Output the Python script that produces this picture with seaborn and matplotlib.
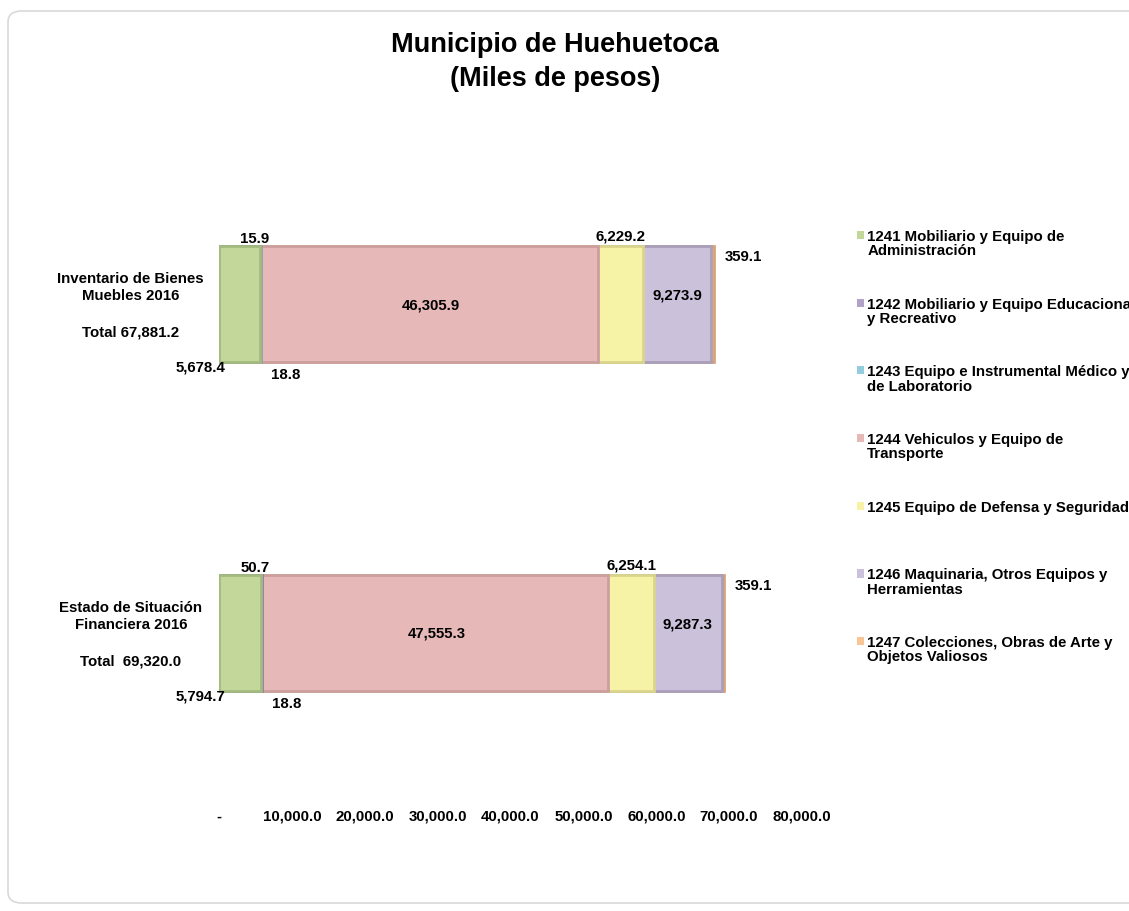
import matplotlib
matplotlib.use("Agg")
import matplotlib.pyplot as plt
import seaborn as sns
import numpy as np
from matplotlib.patches import Rectangle, FancyBboxPatch
from matplotlib.legend_handler import HandlerPatch
from matplotlib.ticker import FuncFormatter

# data (miles de pesos)
categorias = ["Inventario de Bienes\nMuebles 2016", "Estado de Situación\nFinanciera 2016"]
totales = ["Total 67,881.2", "Total  69,320.0"]
cuentas = [
    "1241 Mobiliario y Equipo de\nAdministración",
    "1242 Mobiliario y Equipo Educacional\ny Recreativo",
    "1243 Equipo e Instrumental Médico y\nde Laboratorio",
    "1244 Vehiculos y Equipo de\nTransporte",
    "1245 Equipo de Defensa y Seguridad\n ",
    "1246 Maquinaria, Otros Equipos y\nHerramientas",
    "1247 Colecciones, Obras de Arte y\nObjetos Valiosos",
]
inventario = [5678.4, 15.9, 18.8, 46305.9, 6229.2, 9273.9, 359.1]
estado = [5794.7, 50.7, 18.8, 47555.3, 6254.1, 9287.3, 359.1]
ticks_x = [0, 10000, 20000, 30000, 40000, 50000, 60000, 70000, 80000]

colores = ["#c4d79b", "#b3a2c7", "#93cddd", "#e6b9b8", "#f6f3a6", "#ccc1da", "#f9c593"]
bordes = ["#a3bb80", "#9483ab", "#8fa0a8", "#cc9f9e", "#dad58c", "#aa9fbb", "#d9a374"]

sns.set_theme(style="white")
plt.rcParams["font.family"] = ["Liberation Sans", "DejaVu Sans"]
plt.rcParams["font.weight"] = "bold"
plt.rcParams["text.color"] = "black"
plt.rcParams["xtick.color"] = "black"

fs = 10.8
fig = plt.figure(figsize=(11.29, 9.12), dpi=100)
ax = fig.add_axes([219 / 1129, 1 - 798.5 / 912, 583 / 1129, 658 / 912])

valores = np.array([inventario, estado])
acum = np.cumsum(valores, axis=1)

# stacked bars: draw cumulative sums from the last segment to the first
for i in range(len(cuentas) - 1, -1, -1):
    sns.barplot(x=acum[:, i], y=categorias, orient="h", color=colores[i],
                saturation=1, width=0.35, edgecolor=bordes[i], linewidth=2.0, ax=ax)

ax.set_xlim(0, 80000)
ax.set_ylim(1.5, -0.5)
ax.set_xticks(ticks_x)
ax.xaxis.set_major_formatter(FuncFormatter(lambda v, p: "-" if v == 0 else f"{v:,.1f}"))
ax.tick_params(axis="x", labelsize=fs, pad=8, length=0, labelcolor="black")
ax.tick_params(axis="y", labelleft=False, length=0)
ax.set_xlabel("")
ax.set_ylabel("")
for s in ax.spines.values():
    s.set_visible(False)

# category names on the left
for j in range(len(categorias)):
    ax.annotate(categorias[j], xy=(0, j), xycoords=("axes fraction", "data"),
                xytext=(-63.5, 12.6), textcoords="offset points", ha="center", va="center",
                fontsize=fs, fontweight="bold", multialignment="center")
    ax.annotate(totales[j], xy=(0, j), xycoords=("axes fraction", "data"),
                xytext=(-63.5, -19.8), textcoords="offset points", ha="center", va="center",
                fontsize=fs, fontweight="bold")

# data labels
h = 0.35 / 2
for j, fila in enumerate(valores):
    c = acum[j]
    ini = c - fila
    kw = dict(textcoords="offset points", fontsize=fs, fontweight="bold", va="center")
    ax.annotate(f"{fila[0]:,.1f}", xy=(0, j + h), xytext=(-13.3, -3.2), ha="center", **kw)
    ax.annotate(f"{fila[1]:,.1f}", xy=(c[1], j - h), xytext=(-4.3, 6.1), ha="center", **kw)
    ax.annotate(f"{fila[2]:,.1f}", xy=(c[2], j + h), xytext=(18, -9), ha="center", **kw)
    ax.annotate(f"{fila[3]:,.1f}", xy=((ini[3] + c[3]) / 2, j), xytext=(1, 0), ha="center", **kw)
    ax.annotate(f"{fila[4]:,.1f}", xy=((ini[4] + c[4]) / 2, j - h), xytext=(0, 7.6), ha="center", **kw)
    ax.annotate(f"{fila[5]:,.1f}", xy=((ini[5] + c[5]) / 2, j), xytext=(0, 6.8), ha="center", **kw)
    ax.annotate(f"{fila[6]:,.1f}", xy=(c[6], j - h), xytext=(7.6, -7.2), ha="left", **kw)

# legend with the marker next to the first line of each entry
def cuadro(legend, orig_handle, xdescent, ydescent, width, height, fontsize):
    return Rectangle((-xdescent, -ydescent + 0.55 * fontsize), width, height)

handles = [Rectangle((0, 0), 1, 1, facecolor=colores[i], edgecolor="none") for i in range(len(cuentas))]
leg = fig.legend(handles, cuentas, loc="upper left", bbox_to_anchor=(851 / 1129, 1 - 224 / 912),
                 frameon=False, fontsize=fs, handlelength=0.47, handleheight=0.47,
                 handletextpad=0.22, labelspacing=2.63, borderaxespad=0,
                 handler_map={Rectangle: HandlerPatch(patch_func=cuadro)})
for t in leg.get_texts():
    t.set_linespacing(1.02)
    t.set_color("black")

# titles
fig.text(555 / 1129, 1 - 45 / 912, "Municipio de Huehuetoca", ha="center", va="center",
         fontsize=19.5, fontweight="bold")
fig.text(555 / 1129, 1 - 79 / 912, "(Miles de pesos)", ha="center", va="center",
         fontsize=19.5, fontweight="bold")

# chart area border
fig.patches.append(FancyBboxPatch((8 / 1129, 8 / 912), 1.1, 1 - 20 / 912,
                                  boxstyle="round,pad=0,rounding_size=0.012",
                                  transform=fig.transFigure, facecolor="none",
                                  edgecolor="#d9d9d9", linewidth=1.2))

fig.savefig("out.png", dpi=100)
